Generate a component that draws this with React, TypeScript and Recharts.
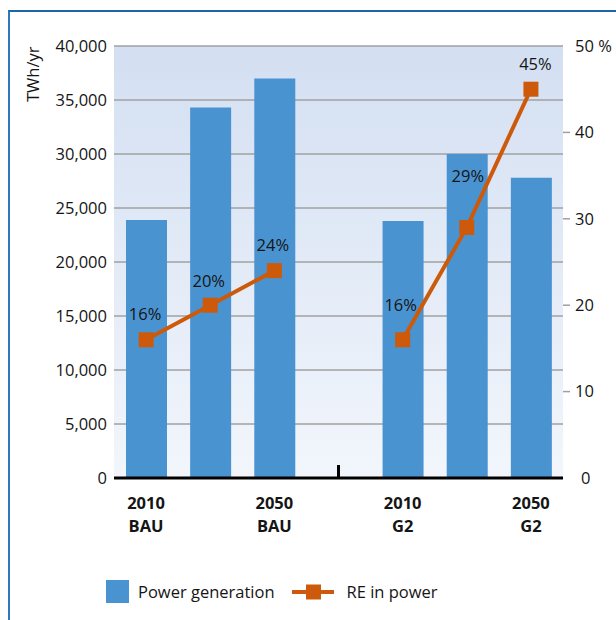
import React from 'react';
import {
  ComposedChart,
  Bar,
  Line,
  XAxis,
  YAxis,
  CartesianGrid,
  Legend,
  LabelList,
  ReferenceLine,
} from 'recharts';

// ---- data ----
const categories = ['2010 BAU', '2030 BAU', '2050 BAU', 'gap', '2010 G2', '2030 G2', '2050 G2'];
const powerGeneration: (number | null)[] = [23900, 34300, 37000, null, 23800, 30000, 27800];
const reInPower: (number | null)[] = [16, 20, 24, null, 16, 29, 45];
const yearLabels = ['2010', '', '2050', '', '2010', '', '2050'];
const scenarioLabels = ['BAU', '', 'BAU', '', 'G2', '', 'G2'];
const leftTicks = [0, 5000, 10000, 15000, 20000, 25000, 30000, 35000, 40000];
const rightTicks = [0, 10, 20, 30, 40, 50];

const data = categories.map((name, i) => ({
  name,
  power: powerGeneration[i],
  re: reInPower[i],
}));

// ---- styles ----
const FONT = '"Open Sans", "Noto Sans", sans-serif';
const FS = 16.5;
const BLUE = '#4a93d1';
const ORANGE = '#cc5a0a';
const TEXT = '#151515';
// label placement tweaks (dx, lift above point) per category index
const labelShift: [number, number][] = [
  [-1, 26], [-1.5, 24], [-1.5, 26], [0, 0], [-2, 35], [1, 51], [4.5, 25],
];

const XTick = (props: any) => {
  const { x, y, payload } = props;
  const i = categories.indexOf(payload.value);
  if (i < 0 || !yearLabels[i]) return <g />;
  return (
    <g>
      <text x={x} y={y + 23} textAnchor="middle" fontFamily={FONT} fontSize={FS} fontWeight={700} fill={TEXT}>
        {yearLabels[i]}
      </text>
      <text x={x} y={y + 46} textAnchor="middle" fontFamily={FONT} fontSize={FS} fontWeight={700} fill={TEXT}>
        {scenarioLabels[i]}
      </text>
    </g>
  );
};

const LeftTick = (props: any) => {
  const { x, y, payload } = props;
  return (
    <text x={x} y={y} dy="0.355em" textAnchor="end" fontFamily={FONT} fontSize={FS} fill={TEXT}>
      {Number(payload.value).toLocaleString('en-US')}
    </text>
  );
};

const RightTick = (props: any) => {
  const { x, y, payload } = props;
  const v = payload.value;
  const showLine = v !== 0 && v !== 50;
  return (
    <g>
      {showLine && <line x1={x - 12} y1={y} x2={x - 5} y2={y} stroke="#a0a0a0" strokeWidth={1.5} />}
      <text x={v === 0 ? x + 6 : x} y={y} dy="0.355em" textAnchor="start" fontFamily={FONT} fontSize={FS} fill={TEXT}>
        {v === 50 ? '50 %' : String(v)}
      </text>
    </g>
  );
};

const SquareDot = (props: any) => {
  const { cx, cy, index, value } = props;
  if (value == null || cy == null || isNaN(cy)) return <g key={`d${index}`} />;
  return <rect key={`d${index}`} x={cx - 7.5} y={cy - 7.5} width={15} height={15} fill={ORANGE} />;
};

const PctLabel = (props: any) => {
  const { x, y, value, index } = props;
  if (value == null) return null;
  const [dx, lift] = labelShift[index] || [0, 25];
  return (
    <text x={x + dx} y={y - lift + 5.9} textAnchor="middle" fontFamily={FONT} fontSize={FS} fill={TEXT}>
      {`${value}%`}
    </text>
  );
};

const renderLegend = () => (
  <div style={{ display: 'flex', alignItems: 'center', fontFamily: FONT, fontSize: FS, color: TEXT }}>
    <svg width={23} height={23} style={{ display: 'block' }}>
      <rect width={23} height={23} fill={BLUE} />
    </svg>
    <span style={{ marginLeft: 9 }}>Power generation</span>
    <svg width={42} height={16} style={{ display: 'block', marginLeft: 17 }}>
      <line x1={0} y1={8} x2={42} y2={8} stroke={ORANGE} strokeWidth={4} />
      <rect x={14} y={0.5} width={15} height={15} fill={ORANGE} />
    </svg>
    <span style={{ marginLeft: 13 }}>RE in power</span>
  </div>
);

const TWhLabel = () => (
  <text transform="translate(39,102) rotate(-90)" fontFamily={FONT} fontSize={FS} fill={TEXT}>
    TWh/yr
  </text>
);

export default function App() {
  return (
    <div style={{ position: 'absolute', left: 0, top: 0, width: 616, height: 620, background: '#fff' }}>
      <div
        style={{
          position: 'absolute',
          left: 8,
          top: 10,
          width: 608,
          height: 610,
          borderTop: '2px solid #1f66a8',
          borderLeft: '2px solid #2f78bd',
          boxSizing: 'border-box',
        }}
      />
      <div style={{ position: 'absolute', left: 0, top: 0 }}>
        <ComposedChart
          width={616}
          height={620}
          data={data}
          margin={{ top: 46, right: 8, bottom: 82, left: 54 }}
        >
          <defs>
            <linearGradient id="bgGrad" x1="0" y1="0" x2="0" y2="1">
              <stop offset="0%" stopColor="#d3dff2" />
              <stop offset="100%" stopColor="#f2f6fc" />
            </linearGradient>
          </defs>
          <CartesianGrid
            yAxisId="left"
            vertical={false}
            stroke="#a0a0a0"
            strokeWidth={1.5}
            fill="url(#bgGrad)"
            fillOpacity={1}
          />
          <XAxis
            dataKey="name"
            interval={0}
            height={60}
            tickLine={false}
            tickSize={6}
            tickMargin={2}
            axisLine={{ stroke: '#000', strokeWidth: 3 }}
            tick={<XTick />}
          />
          <YAxis
            yAxisId="left"
            width={60}
            domain={[0, 40000]}
            ticks={leftTicks}
            axisLine={false}
            tickLine={false}
            tickSize={6}
            tickMargin={1}
            tick={<LeftTick />}
            label={<TWhLabel />}
          />
          <YAxis
            yAxisId="right"
            orientation="right"
            width={45}
            domain={[0, 50]}
            ticks={rightTicks}
            axisLine={false}
            tickLine={false}
            tickSize={7}
            tickMargin={5}
            tick={<RightTick />}
          />
          <Bar
            yAxisId="left"
            dataKey="power"
            name="Power generation"
            fill={BLUE}
            barSize={41}
            isAnimationActive={false}
          />
          <ReferenceLine
            yAxisId="left"
            segment={[{ x: 'gap', y: 0 }, { x: 'gap', y: 1200 }]}
            stroke="#000"
            strokeWidth={3}
          />
          <Line
            yAxisId="right"
            dataKey="re"
            name="RE in power"
            stroke={ORANGE}
            strokeWidth={4}
            dot={SquareDot}
            activeDot={false}
            isAnimationActive={false}
          >
            <LabelList dataKey="re" content={<PctLabel />} />
          </Line>
          <Legend
            layout="horizontal"
            verticalAlign="middle"
            align="center"
            content={renderLegend}
            wrapperStyle={{ top: 580, left: 106, width: 500 }}
          />
        </ComposedChart>
      </div>
    </div>
  );
}
